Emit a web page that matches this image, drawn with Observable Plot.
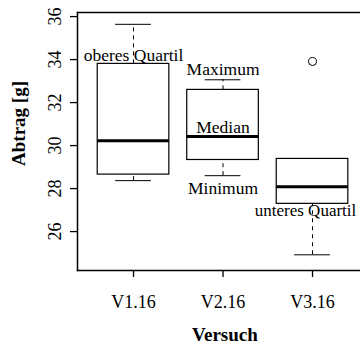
<!DOCTYPE html>
<html><head><meta charset="utf-8">
<script src="https://cdn.jsdelivr.net/npm/d3@7"></script>
<script src="https://cdn.jsdelivr.net/npm/@observablehq/plot@0.6"></script>
<style>body{margin:0;background:#fff}</style>
</head><body><div id="chart"></div>
<script>
const categories = ["V1.16", "V2.16", "V3.16"];
const lowerWhisker = [28.37, 28.60, 24.92];
const lowerQuartile = [28.65, 29.33, 27.29];
const medians = [30.22, 30.42, 28.09];
const upperQuartile = [33.80, 32.59, 29.38];
const upperWhisker = [35.64, 33.06, 29.38];
const outlierCategory = ["V3.16"];
const outlierValue = [33.91];
const yTicks = [26, 28, 30, 32, 34, 36];
const annotationText = ["oberes Quartil", "Maximum", "Median", "Minimum", "unteres Quartil"];
const annotationCategory = ["V1.16", "V2.16", "V2.16", "V2.16", "V3.16"];
const annotationValue = [33.92, 33.30, 30.57, 27.75, 26.74];
const xTitle = "Versuch";
const yTitle = "Abtrag [g]";

const pos = c => categories.indexOf(c) + 1;
const boxes = categories.map((c, i) => ({
  c, x: i + 1,
  lo: lowerWhisker[i], q1: lowerQuartile[i], med: medians[i],
  q3: upperQuartile[i], hi: upperWhisker[i]
}));
const outliers = outlierValue.map((v, i) => ({x: pos(outlierCategory[i]), v}));
const notes = annotationText.map((t, i) => ({t, x: pos(annotationCategory[i]), v: annotationValue[i]}));
const lastCat = categories[categories.length - 1];
const HW = 0.4, SW = 0.2;
const dash = "4,4";

const chart = Plot.plot({
  width: 360, height: 345,
  marginLeft: 77, marginRight: 0, marginTop: 12, marginBottom: 75,
  style: {fontFamily: "Liberation Serif", fontSize: "18px", background: "white", color: "black"},
  x: {type: "linear", domain: [0.374, 3.536]},
  y: {domain: [24.19, 36.19]},
  marks: [
    Plot.ruleX(boxes.filter(d => d.hi > d.q3), {x: "x", y1: "q3", y2: "hi", stroke: "black", strokeDasharray: dash}),
    Plot.ruleX(boxes.filter(d => d.lo < d.q1), {x: "x", y1: "lo", y2: "q1", stroke: "black", strokeDasharray: dash}),
    Plot.ruleY(boxes, {y: "hi", x1: d => d.x - SW, x2: d => d.x + SW, stroke: "black"}),
    Plot.ruleY(boxes, {y: "lo", x1: d => d.x - SW, x2: d => d.x + SW, stroke: "black"}),
    Plot.rect(boxes, {x1: d => d.x - HW, x2: d => d.x + HW, y1: "q1", y2: "q3", fill: "white", stroke: "black", strokeWidth: 1.2}),
    Plot.ruleY(boxes, {y: "med", x1: d => d.x - HW, x2: d => d.x + HW, stroke: "black", strokeWidth: 3}),
    Plot.dot(outliers, {x: "x", y: "v", r: 4, stroke: "black", fill: "none", strokeWidth: 1}),
    Plot.text(notes.filter(d => d.x !== pos(lastCat)), {x: "x", y: "v", text: "t", lineAnchor: "bottom", fontSize: 17.5, fill: "black"}),
    Plot.text(notes.filter(d => d.x === pos(lastCat)), {x: "x", y: "v", text: "t", dx: -7, lineAnchor: "bottom", fontSize: 17, fill: "black"}),
    Plot.frame({anchor: "left", stroke: "black", strokeWidth: 1.5}),
    Plot.frame({anchor: "top", stroke: "black", strokeWidth: 1.5}),
    Plot.frame({anchor: "bottom", stroke: "black", strokeWidth: 1.5}),
    Plot.axisY(yTicks, {tickSize: 7, tickPadding: 10, tickRotate: -90, fontSize: 18, label: null, tickFormat: d => String(d), strokeWidth: 1.3}),
    Plot.axisX(categories.map((c, i) => i + 1), {tickSize: 7, tickPadding: 18, fontSize: 18, label: null, tickFormat: i => categories[i - 1], strokeWidth: 1.3}),
    Plot.text([yTitle], {frameAnchor: "left", text: d => d, rotate: -90, dx: -52.7, dy: -18, textAnchor: "middle", lineAnchor: "bottom", fontWeight: "bold", fontSize: 19, fill: "black"}),
    Plot.text([xTitle], {frameAnchor: "bottom", text: d => d, dx: 5.9, dy: 70.5, textAnchor: "middle", lineAnchor: "bottom", fontWeight: "bold", fontSize: 19, fill: "black"})
  ]
});
document.getElementById("chart").appendChild(chart);
</script>
</body></html>
